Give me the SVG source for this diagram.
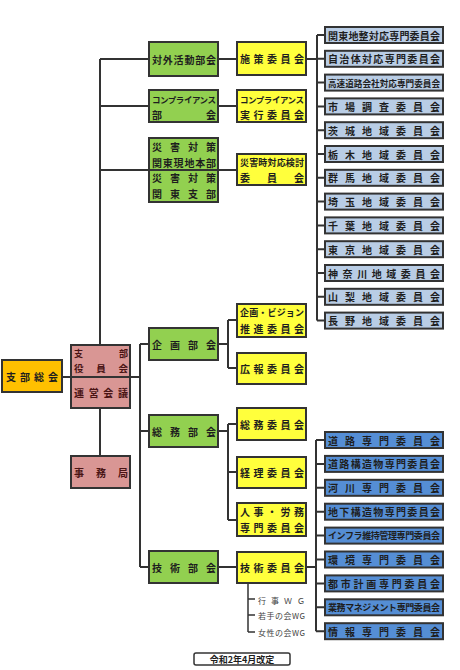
<svg xmlns="http://www.w3.org/2000/svg" width="460" height="670" viewBox="0 0 460 670">
<style>
rect{stroke:#333;stroke-width:2}
.gr{fill:#92d050}.ye{fill:#ffff3c}.lb{fill:#b9cde5}.db{fill:#558ed5}.pk{fill:#d99694}.or{fill:#ffc000}
text{font-family:"Noto Sans CJK JP","Noto Sans CJK SC",sans-serif;font-weight:bold;fill:#1e1e1e;dominant-baseline:central;font-size:10px}
.pt{fill:#4a1414}
.wg{font-size:8px;fill:#444;font-weight:normal}
#connectors path{fill:none;stroke:#333;stroke-width:2}
</style>
<rect x="0" y="0" width="460" height="670" style="fill:#fff;stroke:none"/>
<g id="connectors">
<path d="M100,59V345M100,408V456M100,59H149M100,106H149M100,170H149"/>
<path d="M62,377H71M130,377H140M140,344V567M140,344H149M140,431H149M140,567H149"/>
<path d="M218,59H237M218,106H237M218,170H237M218,567H237"/>
<path d="M218,344H228M228,320V368M228,320H237M228,368H237"/>
<path d="M218,431H228M228,424V520M228,424H237M228,472H237M228,520H237"/>
<path d="M306,59H317M317,35V320.6M317,35H325M317,58.8H325M317,82.6H325M317,106.4H325M317,130.2H325M317,154H325M317,177.8H325M317,201.6H325M317,225.4H325M317,249.2H325M317,273H325M317,296.8H325M317,320.6H325"/>
<path d="M306,567H316M316,440V631.2M316,440H325M316,463.9H325M316,487.8H325M316,511.7H325M316,535.6H325M316,559.5H325M316,583.4H325M316,607.3H325M316,631.2H325"/>
<path d="M248,583V632M248,599H255M248,615H255M248,632H255" style="stroke-width:1.5"/>
</g>
<g id="n-soukai"><rect class="or" x="2" y="360" width="60" height="32"/><text x="6" y="376" textLength="52" lengthAdjust="spacing">支部総会</text></g>
<g id="n-yakuin"><rect class="pk" x="71" y="345" width="59" height="63"/><path d="M71,377H130" stroke="#333" stroke-width="2"/>
<text class="pt" x="74" y="353" style="font-size:9px" textLength="54" lengthAdjust="spacing">支部</text>
<text class="pt" x="74" y="367.5" style="font-size:9.5px" textLength="54" lengthAdjust="spacing">役員会</text>
<text class="pt" x="74" y="392" textLength="54" lengthAdjust="spacing">運営会議</text></g>
<g id="n-jimu"><rect class="pk" x="71" y="456" width="59" height="32"/><text class="pt" x="74" y="472" textLength="54" lengthAdjust="spacing">事務局</text></g>

<g id="n-taigai"><rect class="gr" x="149" y="42" width="69" height="34"/><text x="152" y="59" textLength="64" lengthAdjust="spacing">対外活動部会</text></g>
<g id="n-comp"><rect class="gr" x="149" y="90" width="69" height="32"/><text x="152" y="99" style="font-size:8.5px" textLength="64" lengthAdjust="spacing">コンプライアンス</text><text x="152" y="114" textLength="64" lengthAdjust="spacing">部会</text></g>
<g id="n-saigai"><rect class="gr" x="149" y="138" width="69" height="64"/><path d="M149,170H218" stroke="#333" stroke-width="2"/>
<text x="152" y="146" textLength="64" lengthAdjust="spacing">災害対策</text>
<text x="152" y="162" textLength="64" lengthAdjust="spacing">関東現地本部</text>
<text x="152" y="177" textLength="64" lengthAdjust="spacing">災害対策</text>
<text x="152" y="193" textLength="64" lengthAdjust="spacing">関東支部</text></g>
<g id="n-kikaku"><rect class="gr" x="149" y="328" width="69" height="32"/><text x="152" y="344" textLength="64" lengthAdjust="spacing">企画部会</text></g>
<g id="n-soumu"><rect class="gr" x="149" y="415" width="69" height="32"/><text x="152" y="431" textLength="64" lengthAdjust="spacing">総務部会</text></g>
<g id="n-gijutsu"><rect class="gr" x="149" y="551" width="69" height="32"/><text x="152" y="567" textLength="64" lengthAdjust="spacing">技術部会</text></g>

<g id="n-shisaku"><rect class="ye" x="237" y="42" width="69" height="33"/><text x="240" y="58.5" textLength="64" lengthAdjust="spacing">施策委員会</text></g>
<g id="n-compj"><rect class="ye" x="237" y="90" width="69" height="32"/><text x="240" y="99" style="font-size:8.5px" textLength="64" lengthAdjust="spacing">コンプライアンス</text><text x="240" y="114" textLength="64" lengthAdjust="spacing">実行委員会</text></g>
<g id="n-saigaiji"><rect class="ye" x="237" y="154" width="69" height="31"/><text x="240" y="162" style="font-size:9px" textLength="64" lengthAdjust="spacing">災害時対応検討</text><text x="240" y="177" textLength="64" lengthAdjust="spacing">委員会</text></g>
<g id="n-vision"><rect class="ye" x="237" y="304" width="69" height="33"/><text x="240" y="312.5" style="font-size:9px" textLength="64" lengthAdjust="spacing">企画・ビジョン</text><text x="240" y="328" textLength="64" lengthAdjust="spacing">推進委員会</text></g>
<g id="n-kouhou"><rect class="ye" x="237" y="353" width="69" height="31"/><text x="240" y="368.5" textLength="64" lengthAdjust="spacing">広報委員会</text></g>
<g id="n-soumuI"><rect class="ye" x="237" y="408" width="69" height="32"/><text x="240" y="424" textLength="64" lengthAdjust="spacing">総務委員会</text></g>
<g id="n-keiri"><rect class="ye" x="237" y="457" width="69" height="31"/><text x="240" y="472.5" textLength="64" lengthAdjust="spacing">経理委員会</text></g>
<g id="n-jinji"><rect class="ye" x="237" y="503" width="69" height="33"/><text x="240" y="511.5" textLength="64" lengthAdjust="spacing">人事・労務</text><text x="240" y="527" textLength="64" lengthAdjust="spacing">専門委員会</text></g>
<g id="n-gijutsuI"><rect class="ye" x="237" y="552" width="69" height="31"/><text x="240" y="567.5" textLength="64" lengthAdjust="spacing">技術委員会</text></g>

<g id="n-wg"><text class="wg" x="258" y="600" textLength="47" lengthAdjust="spacing">行事ＷＧ</text><text class="wg" x="258" y="615.5" textLength="47" lengthAdjust="spacing">若手の会WG</text><text class="wg" x="258" y="632" textLength="47" lengthAdjust="spacing">女性の会WG</text></g>

<g id="n-kanto"><rect class="lb" x="325" y="27" width="118" height="16"/><text x="328" y="35" textLength="112" lengthAdjust="spacing">関東地整対応専門委員会</text></g>
<g id="n-jichi"><rect class="lb" x="325" y="50.8" width="118" height="16"/><text x="328" y="58.8" textLength="112" lengthAdjust="spacing">自治体対応専門委員会</text></g>
<g id="n-kousoku"><rect class="lb" x="325" y="74.6" width="118" height="16"/><text x="328" y="82.6" style="font-size:8.6px" textLength="112" lengthAdjust="spacing">高速道路会社対応専門委員会</text></g>
<g id="n-shijou"><rect class="lb" x="325" y="98.4" width="118" height="16"/><text x="328" y="106.4" textLength="112" lengthAdjust="spacing">市場調査委員会</text></g>
<g id="n-ibaraki"><rect class="lb" x="325" y="122.2" width="118" height="16"/><text x="328" y="130.2" textLength="112" lengthAdjust="spacing">茨城地域委員会</text></g>
<g id="n-tochigi"><rect class="lb" x="325" y="146" width="118" height="16"/><text x="328" y="154" textLength="112" lengthAdjust="spacing">栃木地域委員会</text></g>
<g id="n-gunma"><rect class="lb" x="325" y="169.8" width="118" height="16"/><text x="328" y="177.8" textLength="112" lengthAdjust="spacing">群馬地域委員会</text></g>
<g id="n-saitama"><rect class="lb" x="325" y="193.6" width="118" height="16"/><text x="328" y="201.6" textLength="112" lengthAdjust="spacing">埼玉地域委員会</text></g>
<g id="n-chiba"><rect class="lb" x="325" y="217.4" width="118" height="16"/><text x="328" y="225.4" textLength="112" lengthAdjust="spacing">千葉地域委員会</text></g>
<g id="n-tokyo"><rect class="lb" x="325" y="241.2" width="118" height="16"/><text x="328" y="249.2" textLength="112" lengthAdjust="spacing">東京地域委員会</text></g>
<g id="n-kanagawa"><rect class="lb" x="325" y="265" width="118" height="16"/><text x="328" y="273" textLength="112" lengthAdjust="spacing">神奈川地域委員会</text></g>
<g id="n-yamanashi"><rect class="lb" x="325" y="288.8" width="118" height="16"/><text x="328" y="296.8" textLength="112" lengthAdjust="spacing">山梨地域委員会</text></g>
<g id="n-nagano"><rect class="lb" x="325" y="312.6" width="118" height="16"/><text x="328" y="320.6" textLength="112" lengthAdjust="spacing">長野地域委員会</text></g>

<g id="n-douro"><rect class="db" x="325" y="432" width="118" height="16"/><text x="328" y="440" textLength="112" lengthAdjust="spacing">道路専門委員会</text></g>
<g id="n-kouzou"><rect class="db" x="325" y="455.9" width="118" height="16"/><text x="328" y="463.9" textLength="112" lengthAdjust="spacing">道路構造物専門委員会</text></g>
<g id="n-kasen"><rect class="db" x="325" y="479.8" width="118" height="16"/><text x="328" y="487.8" textLength="112" lengthAdjust="spacing">河川専門委員会</text></g>
<g id="n-chika"><rect class="db" x="325" y="503.7" width="118" height="16"/><text x="328" y="511.7" textLength="112" lengthAdjust="spacing">地下構造物専門委員会</text></g>
<g id="n-infra"><rect class="db" x="325" y="527.6" width="118" height="16"/><text x="328" y="535.6" style="font-size:9px" textLength="112" lengthAdjust="spacing">インフラ維持管理専門委員会</text></g>
<g id="n-kankyo"><rect class="db" x="325" y="551.5" width="118" height="16"/><text x="328" y="559.5" textLength="112" lengthAdjust="spacing">環境専門委員会</text></g>
<g id="n-toshi"><rect class="db" x="325" y="575.4" width="118" height="16"/><text x="328" y="583.4" textLength="112" lengthAdjust="spacing">都市計画専門委員会</text></g>
<g id="n-gyoumu"><rect class="db" x="325" y="599.3" width="118" height="16"/><text x="328" y="607.3" style="font-size:9px" textLength="112" lengthAdjust="spacing">業務マネジメント専門委員会</text></g>
<g id="n-jouhou"><rect class="db" x="325" y="623.2" width="118" height="16"/><text x="328" y="631.2" textLength="112" lengthAdjust="spacing">情報専門委員会</text></g>

<g id="n-date"><rect x="194" y="653" width="96" height="12" rx="2" style="fill:#fff;stroke-width:1.5"/><text x="242" y="659" style="font-size:9px" text-anchor="middle">令和2年4月改定</text></g>
</svg>
